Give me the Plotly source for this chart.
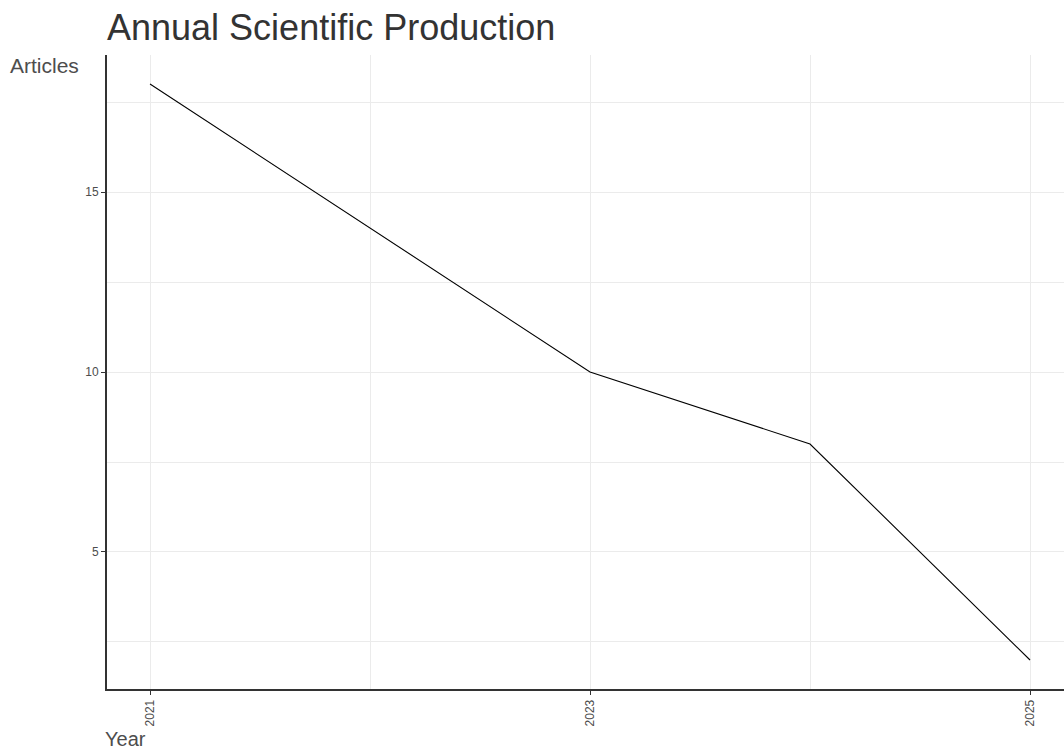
import plotly.graph_objects as go

years = [2021, 2022, 2023, 2024, 2025]
articles = [18, 14, 10, 8, 2]

title_text = "Annual Scientific Production"
x_title = "Year"
y_title = "Articles"

FONT = "Liberation Sans, Arial, sans-serif"
W, H = 1064, 749
ML, MR, MT, MB = 107, 0, 55, 60
PW = W - ML - MR
PH = H - MT - MB

fig = go.Figure()
fig.add_trace(go.Scatter(
    x=years, y=articles, mode="lines",
    line=dict(color="black", width=1.1),
    showlegend=False, hoverinfo="x+y",
))

fig.update_layout(
    width=W, height=H,
    margin=dict(l=ML, r=MR, t=MT, b=MB),
    paper_bgcolor="white", plot_bgcolor="white",
    font=dict(family=FONT, color="#4d4d4d"),
    title=dict(
        text=title_text, x=0, xref="paper", xanchor="left",
        y=1 - 27 / H, yref="container", yanchor="middle",
        font=dict(family=FONT, size=36, color="#333333"),
        pad=dict(l=0),
    ),
    xaxis=dict(
        range=[2020.8045, 2025.1545],
        tickmode="linear", tick0=2021, dtick=2,
        tickangle=-90,
        tickfont=dict(size=12, color="#4d4d4d"),
        ticks="outside", ticklen=4, tickcolor="#333333", tickwidth=1,
        showline=True, linecolor="#333333", linewidth=1.8,
        showgrid=True, gridcolor="#ebebeb", gridwidth=1,
        minor=dict(dtick=1, tick0=2021, showgrid=True, gridcolor="#ebebeb", gridwidth=0.8),
        zeroline=False,
    ),
    yaxis=dict(
        range=[1.194, 18.806],
        tickmode="linear", tick0=0, dtick=5,
        tickfont=dict(size=12, color="#4d4d4d"),
        ticks="outside", ticklen=4, tickcolor="#333333", tickwidth=1,
        showline=True, linecolor="#333333", linewidth=1.8,
        showgrid=True, gridcolor="#ebebeb", gridwidth=1,
        minor=dict(dtick=2.5, tick0=0, showgrid=True, gridcolor="#ebebeb", gridwidth=0.8),
        zeroline=False,
    ),
    annotations=[
        dict(text=y_title, xref="paper", yref="paper",
             x=(8 - ML) / PW, xanchor="left",
             y=1 + (MT - 65) / PH, yanchor="middle",
             showarrow=False, font=dict(family=FONT, size=21, color="#4d4d4d")),
        dict(text=x_title, xref="paper", yref="paper",
             x=-4 / PW, xanchor="left",
             y=-(739 - (H - MB)) / PH, yanchor="middle",
             showarrow=False, font=dict(family=FONT, size=20, color="#4d4d4d")),
    ],
)

fig.write_html("out.html", config={"displayModeBar": False},
               post_script="document.body.style.margin='0px';")
